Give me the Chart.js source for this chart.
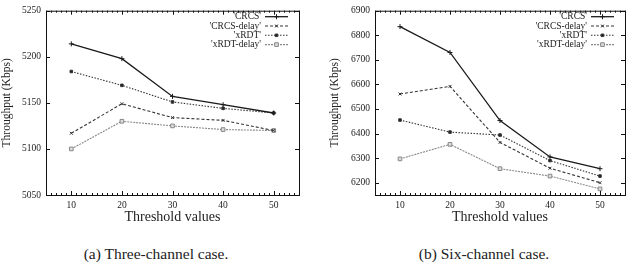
<!DOCTYPE html>
<html>
<head>
<meta charset="utf-8">
<script src="https://cdn.jsdelivr.net/npm/chart.js@4"></script>
<style>
  body { margin: 0; background: #fff; width: 630px; height: 263px; overflow: hidden; position: relative; }
  .box { position: absolute; top: 0; }
  .caption { position: absolute; top: 245px; font-family: "Liberation Serif", serif; font-size: 15.5px; color: #222; white-space: nowrap; transform: translateX(-50%); }
</style>
</head>
<body>
<div class="box" style="left:0;width:305px;height:230px"><canvas id="chart3"></canvas></div>
<div class="box" style="left:315px;width:315px;height:230px"><canvas id="chart6"></canvas></div>
<div class="caption" style="left:156px">(a) Three-channel case.</div>
<div class="caption" style="left:484px">(b) Six-channel case.</div>
<script>
// 阈值 (x 轴)
const thresholds = [10, 20, 30, 40, 50];
const xTicks = [10, 20, 30, 40, 50];

// 三信道
const crcs3 = [5214, 5198, 5157, 5148, 5139];
const crcsDelay3 = [5117, 5149, 5134, 5131, 5120];
const xrdt3 = [5184, 5169, 5151, 5144, 5139];
const xrdtDelay3 = [5100, 5130, 5125, 5121, 5120];
const yTicks3 = [5050, 5100, 5150, 5200, 5250];

// 六信道
const crcs6 = [6835, 6730, 6453, 6305, 6257];
const crcsDelay6 = [6561, 6592, 6364, 6259, 6200];
const xrdt6 = [6455, 6406, 6394, 6290, 6227];
const xrdtDelay6 = [6297, 6356, 6257, 6227, 6175];
const yTicks6 = [6200, 6300, 6400, 6500, 6600, 6700, 6800, 6900];

const seriesNames = ["'CRCS'", "'CRCS-delay'", "'xRDT'", "'xRDT-delay'"];

const serif = "'Liberation Serif', 'Times New Roman', serif";

function pts(vals) {
  return thresholds.map((t, i) => ({ x: t, y: vals[i] }));
}

// 每条线的样式
const styles = [
  { color: "#1a1a1a", dash: [], width: 1.3, point: "cross", radius: 2.5, fill: "#1a1a1a" },
  { color: "#333", dash: [3, 2], width: 1.1, point: "crossRot", radius: 2, fill: "#333" },
  { color: "#333", dash: [1.5, 1.5], width: 1.1, point: "rect", radius: 1.8, fill: "#222" },
  { color: "#888", dash: [2, 1], width: 1.1, point: "rect", radius: 2.6, fill: "#ddd" },
];

function makeDatasets(lists) {
  return lists.map((vals, i) => ({
    label: seriesNames[i],
    data: pts(vals),
    borderColor: styles[i].color,
    borderWidth: styles[i].width,
    borderDash: styles[i].dash,
    pointStyle: styles[i].point,
    pointRadius: styles[i].radius,
    pointBorderWidth: 1,
    pointBackgroundColor: styles[i].fill,
    pointBorderColor: styles[i].color,
    tension: 0,
  }));
}

// gnuplot 风格的内向刻度 + 图例
const gnuplotBits = {
  id: "gnuplotBits",
  afterDatasetsDraw(chart) {
    const ctx = chart.ctx;
    const a = chart.chartArea;
    const xs = chart.scales.x, ys = chart.scales.y;
    ctx.save();
    ctx.strokeStyle = "#111";
    ctx.lineWidth = 1;
    ctx.setLineDash([]);
    ctx.beginPath();
    for (let v = xs.min; v <= xs.max; v += 1) {
      const px = Math.round(xs.getPixelForValue(v)) + 0.5;
      const len = xTicks.includes(v) ? 4 : 2;
      ctx.moveTo(px, a.bottom); ctx.lineTo(px, a.bottom - len);
      ctx.moveTo(px, a.top); ctx.lineTo(px, a.top + len);
    }
    ys.ticks.forEach(t => {
      const py = Math.round(ys.getPixelForValue(t.value)) + 0.5;
      ctx.moveTo(a.left, py); ctx.lineTo(a.left + 4, py);
      ctx.moveTo(a.right, py); ctx.lineTo(a.right - 4, py);
    });
    ctx.stroke();
    ctx.strokeRect(a.left + 0.5, a.top + 0.5, a.right - a.left, a.bottom - a.top);

    // 图例
    ctx.font = "9.5px " + serif;
    ctx.fillStyle = "#222";
    ctx.textAlign = "right";
    ctx.textBaseline = "middle";
    chart.data.datasets.forEach((ds, i) => {
      const y = a.top + 6 + i * 9.3;
      const x1 = a.right - 34, x2 = a.right - 11;
      ctx.fillText(ds.label, a.right - 38, y);
      ctx.beginPath();
      ctx.strokeStyle = ds.borderColor;
      ctx.lineWidth = ds.borderWidth;
      ctx.setLineDash(ds.borderDash);
      ctx.moveTo(x1, y); ctx.lineTo(x2, y);
      ctx.stroke();
      ctx.setLineDash([]);
      ctx.lineWidth = 1;
      ctx.fillStyle = ds.pointBackgroundColor;
      ctx.strokeStyle = ds.pointBorderColor;
      Chart.helpers.drawPoint(ctx, { pointStyle: ds.pointStyle, radius: ds.pointRadius, rotation: 0, borderWidth: 1 }, (x1 + x2) / 2, y);
      ctx.fillStyle = "#222";
    });
    ctx.restore();
  },
};

function makeChart(id, lists, yTicks, yMin, yMax, yAxisWidth, yTitlePad) {
  return new Chart(document.getElementById(id), {
    type: "line",
    data: { datasets: makeDatasets(lists) },
    plugins: [gnuplotBits],
    options: {
      responsive: true,
      maintainAspectRatio: false,
      animation: false,
      layout: { padding: { top: 9, right: id === "chart3" ? 6 : 2, left: 0, bottom: 0 } },
      plugins: { legend: { display: false }, tooltip: { enabled: false } },
      scales: {
        x: {
          type: "linear",
          min: 5,
          max: 55,
          afterBuildTicks: s => { s.ticks = xTicks.map(v => ({ value: v })); },
          afterFit: s => { s.height = 35; },
          grid: { display: false, drawTicks: false },
          border: { display: false },
          ticks: { padding: 5, color: "#222", font: { family: serif, size: 9.5 }, callback: v => String(v) },
          title: { display: true, text: "Threshold values", color: "#222", font: { family: serif, size: 14 }, padding: { top: 0, bottom: 4 } },
        },
        y: {
          type: "linear",
          min: yMin,
          max: yMax,
          afterBuildTicks: s => { s.ticks = yTicks.map(v => ({ value: v })); },
          afterFit: s => { s.width = yAxisWidth; },
          grid: { display: false, drawTicks: false },
          border: { display: false },
          ticks: { padding: 5, color: "#222", font: { family: serif, size: 9.5 }, callback: v => String(v) },
          title: { display: true, text: "Throughput (Kbps)", color: "#222", font: { family: serif, size: 11.5 }, padding: { top: yTitlePad, bottom: 0 } },
        },
      },
    },
  });
}

makeChart("chart3", [crcs3, crcsDelay3, xrdt3, xrdtDelay3], yTicks3, 5050, 5250, 46, 0);
makeChart("chart6", [crcs6, crcsDelay6, xrdt6, xrdtDelay6], yTicks6, 6150, 6900, 60, 13);
</script>
</body>
</html>
